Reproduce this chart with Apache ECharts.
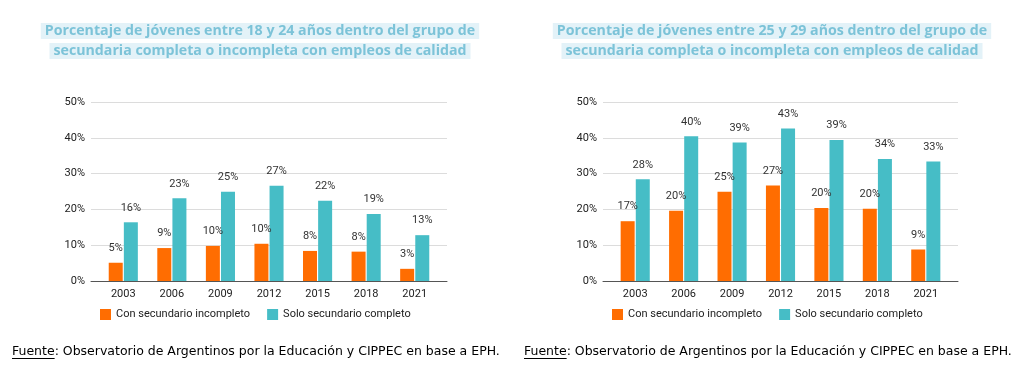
<!DOCTYPE html>
<html>
<head>
<meta charset="utf-8">
<script src="https://cdn.jsdelivr.net/npm/echarts@6/dist/echarts.min.js"></script>
<style>
html,body{margin:0;padding:0;background:#fff;}
#c{width:1024px;height:384px;}
</style>
</head>
<body>
<div id="c"></div>
<script>
const categories = ['2003','2006','2009','2012','2015','2018','2021'];
const seriesNames = ['Con secundario incompleto','Solo secundario completo'];
// Chart 1: 18-24
const left_incompleto = [5.1, 9.2, 9.8, 10.4, 8.4, 8.2, 3.4];
const left_completo   = [16.4, 23.1, 24.9, 26.6, 22.4, 18.7, 12.8];
// Chart 2: 25-29
const right_incompleto = [16.7, 19.6, 24.9, 26.7, 20.4, 20.2, 8.8];
const right_completo   = [28.4, 40.4, 38.7, 42.6, 39.4, 34.1, 33.4];
const yTicks = [0, 10, 20, 30, 40, 50];
const leftTitle = ['Porcentaje de jóvenes entre 18 y 24 años dentro del grupo de','secundaria completa o incompleta con empleos de calidad'];
const rightTitle = ['Porcentaje de jóvenes entre 25 y 29 años dentro del grupo de','secundaria completa o incompleta con empleos de calidad'];
const sourceLabel = 'Fuente';
const sourceRest = ': Observatorio de Argentinos por la Educación y CIPPEC en base a EPH.';

const ORANGE = '#ff6d01', TEAL = '#46bdc6';
const chart = echarts.init(document.getElementById('c'), null, {renderer:'canvas'});

const titleStyle = {fontFamily:'Open Sans', fontWeight:'bold', fontSize:14.2, color:'#7cc3d8'};
function titleEntry(text, x, y){
  return {text, left:x, top:y, textAlign:'center', padding:[1,4], backgroundColor:'#e3f2f8',
    textStyle:titleStyle, itemGap:0};
}
function barSeries(name, data, idx, color){
  return {name, type:'bar', xAxisIndex:idx, yAxisIndex:idx, data, barWidth:14, barGap:'8%',
    itemStyle:{color},
    label:{show:true, position:'top', distance:9, fontFamily:'Roboto', fontSize:11, color:'#333',
      formatter:p=>Math.round(p.value)+'%'}};
}
function xOuter(idx){
  return {type:'category', gridIndex:idx, data:[''], boundaryGap:false,
    axisLine:{lineStyle:{color:'#555', width:1}}, axisTick:{show:false},
    axisLabel:{show:false}, splitLine:{show:false}};
}
function yOuter(idx){
  return {type:'value', gridIndex:idx, min:yTicks[0], max:yTicks[yTicks.length-1], interval:10,
    axisLine:{show:false}, axisTick:{show:false},
    splitLine:{lineStyle:{color:'#dcdcdc'}},
    axisLabel:{fontFamily:'Roboto', fontSize:11, color:'#222', margin:6, formatter:'{value}%'}};
}
function xInner(idx){
  return {type:'category', gridIndex:idx, data:categories,
    axisLine:{show:false}, axisTick:{show:false},
    axisLabel:{fontFamily:'Roboto', fontSize:11, color:'#222', margin:8}};
}
function yInner(idx){
  return {type:'value', gridIndex:idx, min:yTicks[0], max:yTicks[yTicks.length-1], interval:10,
    show:false, splitLine:{show:false}};
}

// footer font sized to span the same width as the reference (~488px)
const cv = document.createElement('canvas').getContext('2d');
cv.font = '12px "DejaVu Sans"';
const w12 = cv.measureText(sourceLabel + sourceRest).width;
const footSize = 12 * 488 / w12;
const FOOT_FONT = footSize.toFixed(2) + 'px "DejaVu Sans"';
cv.font = FOOT_FONT;
const fw = cv.measureText(sourceLabel).width;

function footer(x){
  return [
    {type:'text', x:x, y:352, style:{text:sourceLabel+sourceRest, font:FOOT_FONT, fill:'#000', verticalAlign:'middle'}},
    {type:'line', shape:{x1:x, y1:358.5, x2:x+fw, y2:358.5}, style:{stroke:'#000', lineWidth:1}}
  ];
}

const legendText = {fontFamily:'Roboto', fontSize:11, color:'#222'};
chart.setOption({
  animation:false,
  title:[
    titleEntry(leftTitle[0], 256, 23),
    titleEntry(leftTitle[1], 256, 43),
    titleEntry(rightTitle[0], 768, 23),
    titleEntry(rightTitle[1], 768, 43)
  ],
  legend:[
    {data:seriesNames, left:95, top:304, icon:'rect', itemWidth:11, itemHeight:11, itemGap:17, itemStyle:{borderWidth:0},
      textStyle:legendText},
    {data:seriesNames, left:607, top:304, icon:'rect', itemWidth:11, itemHeight:11, itemGap:17, itemStyle:{borderWidth:0},
      textStyle:legendText}
  ],
  grid:[
    {left:91, right:577, top:102, bottom:103},
    {left:99, right:585, top:102, bottom:103},
    {left:603, right:66, top:102, bottom:103},
    {left:611, right:74, top:102, bottom:103}
  ],
  xAxis:[xOuter(0), xInner(1), xOuter(2), xInner(3)],
  yAxis:[yOuter(0), yInner(1), yOuter(2), yInner(3)],
  series:[
    barSeries(seriesNames[0], left_incompleto, 1, ORANGE),
    barSeries(seriesNames[1], left_completo, 1, TEAL),
    barSeries(seriesNames[0], right_incompleto, 3, ORANGE),
    barSeries(seriesNames[1], right_completo, 3, TEAL)
  ],
  graphic:[...footer(12), ...footer(524)]
});
</script>
</body>
</html>
